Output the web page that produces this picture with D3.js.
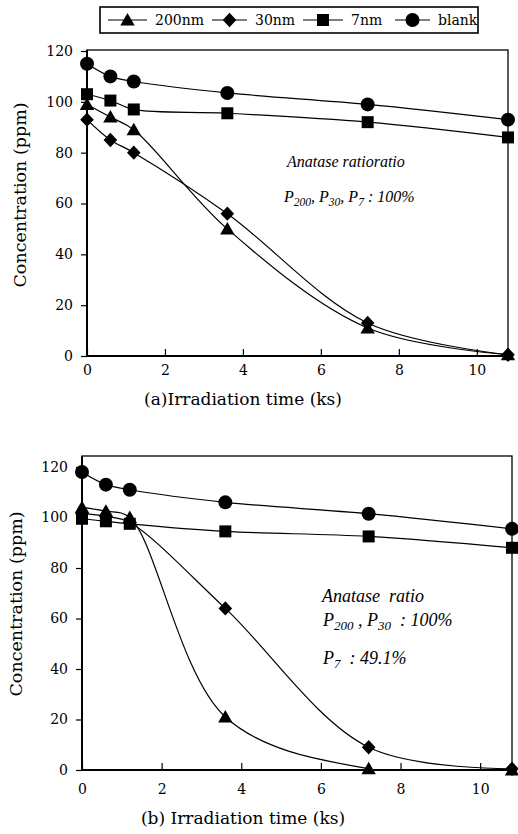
<!DOCTYPE html>
<html>
<head>
<meta charset="utf-8">
<script src="https://cdn.jsdelivr.net/npm/d3@7"></script>
<style>
  body { margin: 0; background: #fff; }
  text { fill: #000; }
</style>
</head>
<body>
<div id="chart"></div>
<script>
// irradiation times (ks)
const time = [0, 0.6, 1.2, 3.6, 7.2, 10.8];
const seriesNames = ["200nm", "30nm", "7nm", "blank"];
const seriesMarkers = ["triangle", "diamond", "square", "circle"];
const xTicks = [0, 2, 4, 6, 8, 10];
const yTicks = [0, 20, 40, 60, 80, 100, 120];

// panel (a)
const a200 = [99, 94, 89, 50, 11, 0.5];
const a30 = [93, 85, 80, 56, 13, 0.5];
const a7 = [103, 100.5, 97, 95.5, 92, 86];
const aBlank = [115, 110, 108, 103.5, 99, 93];

// panel (b)
const b200 = [104, 102.5, 100, 21, 0.5, 0];
const b30 = [101.5, 100.5, 98, 64, 9, 0.5];
const b7 = [99.5, 98.5, 97.5, 94.5, 92.5, 88];
const bBlank = [118, 113, 111, 106, 101.5, 95.5];

const W = 518, H = 834;
const svg = d3.select("#chart").append("svg").attr("width", W).attr("height", H);
const serif = "'DejaVu Serif', serif";
const italic = "'Liberation Serif', serif";

function markerPath(type) {
  if (type === "triangle") return "M0,-7L7.2,5.5L-7.2,5.5Z";
  if (type === "diamond") return "M0,-7.2L6.8,0L0,7.2L-6.8,0Z";
  if (type === "square") return "M-6,-6h12v12h-12Z";
  return "M-7,0a7,7 0 1,0 14,0a7,7 0 1,0 -14,0Z";
}

// legend
const legend = svg.append("g");
legend.append("rect")
  .attr("x", 100).attr("y", 7).attr("width", 378).attr("height", 26)
  .attr("fill", "none").attr("stroke", "#000").attr("stroke-width", 1.6);
const legX = [108, 212, 303, 395];
const legW = [39, 35, 40, 35];
seriesNames.forEach((name, i) => {
  const g = legend.append("g");
  g.append("line")
    .attr("x1", legX[i]).attr("x2", legX[i] + legW[i])
    .attr("y1", 20).attr("y2", 20)
    .attr("stroke", "#000").attr("stroke-width", 1.2);
  g.append("path")
    .attr("d", markerPath(seriesMarkers[i]))
    .attr("transform", `translate(${legX[i] + legW[i] / 2},20)`)
    .attr("fill", "#000");
  g.append("text")
    .attr("x", legX[i] + legW[i] + 8).attr("y", 25)
    .attr("font-family", serif).attr("font-size", 14)
    .text(name);
});

function drawPanel(cfg) {
  const x = d3.scaleLinear().domain([0, 10.8]).range([cfg.left, cfg.right]);
  const y = d3.scaleLinear().domain([0, 120]).range([cfg.bottom, cfg.y120]);
  const g = svg.append("g");

  const clipId = "clip" + cfg.id;
  g.append("clipPath").attr("id", clipId)
    .append("rect")
    .attr("x", cfg.left).attr("y", cfg.top)
    .attr("width", cfg.right - cfg.left).attr("height", cfg.bottom - cfg.top);

  // x axis (ticks point inward)
  const ax = g.append("g")
    .attr("transform", `translate(0,${cfg.bottom})`)
    .call(d3.axisBottom(x).tickValues(xTicks).tickSizeInner(-7).tickSizeOuter(0)
      .tickPadding(cfg.xPad).tickFormat(d3.format("d")));
  ax.select(".domain").remove();
  ax.selectAll("text").attr("font-family", serif).attr("font-size", 14);
  ax.selectAll("line").attr("stroke-width", 1.2);

  // y axis (ticks point outward)
  const ay = g.append("g")
    .attr("transform", `translate(${cfg.left},0)`)
    .call(d3.axisLeft(y).tickValues(yTicks).tickSizeInner(6).tickSizeOuter(0)
      .tickPadding(8).tickFormat(d3.format("d")));
  ay.select(".domain").remove();
  ay.selectAll("text").attr("font-family", serif).attr("font-size", 14);
  ay.selectAll("line").attr("stroke-width", 1.2);

  // frame
  g.append("rect")
    .attr("x", cfg.left).attr("y", cfg.top)
    .attr("width", cfg.right - cfg.left).attr("height", cfg.bottom - cfg.top)
    .attr("fill", "none").attr("stroke", "#000").attr("stroke-width", 1.3);
  g.append("path")
    .attr("d", `M${cfg.left},${cfg.top}V${cfg.bottom}H${cfg.right}`)
    .attr("fill", "none").attr("stroke", "#000").attr("stroke-width", 2);

  const line = d3.line()
    .x((d, i) => x(time[i]))
    .y(d => y(d))
    .curve(d3.curveCatmullRom.alpha(0.5));

  const lines = g.append("g").attr("clip-path", `url(#${clipId})`);
  cfg.series.forEach(vals => {
    lines.append("path")
      .attr("d", line(vals))
      .attr("fill", "none").attr("stroke", "#000").attr("stroke-width", 1.2);
  });

  const marks = g.append("g");
  [3, 2, 1, 0].forEach(s => {
    marks.selectAll(null)
      .data(cfg.series[s])
      .join("path")
      .attr("d", markerPath(seriesMarkers[s]))
      .attr("transform", (d, i) => `translate(${x(time[i])},${y(d)})`)
      .attr("fill", "#000");
  });

  // axis titles
  g.append("text")
    .attr("transform", `translate(${cfg.yTitleX},${cfg.yTitleY}) rotate(-90)`)
    .attr("text-anchor", "middle")
    .attr("font-family", serif).attr("font-size", 17.5)
    .text("Concentration (ppm)");
  g.append("text")
    .attr("x", 243).attr("y", cfg.xTitleY)
    .attr("text-anchor", "middle")
    .attr("font-family", serif).attr("font-size", 17)
    .style("white-space", "pre")
    .text(cfg.xTitle);

  // annotation
  cfg.notes.forEach(n => {
    const t = g.append("text")
      .attr("x", n.x).attr("y", n.y)
      .attr("font-family", italic).attr("font-style", "italic")
      .attr("font-size", n.size)
      .style("white-space", "pre");
    n.parts.forEach(p => {
      const ts = t.append("tspan").text(p[0]);
      if (p[1]) ts.attr("font-size", n.size * 0.72).attr("dy", 4);
      else if (p[2]) ts.attr("dy", -4);
    });
  });
}

drawPanel({
  id: "a", left: 87, right: 508, top: 50, bottom: 356, y120: 51, xPad: 9,
  series: [a200, a30, a7, aBlank],
  yTitleX: 26, yTitleY: 195,
  xTitle: "(a)Irradiation time (ks)", xTitleY: 405,
  notes: [
    { x: 287, y: 167, size: 16, parts: [["Anatase ratioratio"]] },
    { x: 284, y: 202, size: 16, parts: [["P"], ["200", 1], [", P", 0, 1], ["30", 1], [", P", 0, 1], ["7", 1], [" : 100%", 0, 1]] }
  ]
});

drawPanel({
  id: "b", left: 82, right: 512, top: 456, bottom: 770, y120: 467, xPad: 14,
  series: [b200, b30, b7, bBlank],
  yTitleX: 22, yTitleY: 604,
  xTitle: "(b) Irradiation time (ks)", xTitleY: 824,
  notes: [
    { x: 322, y: 602, size: 18, parts: [["Anatase  ratio"]] },
    { x: 323, y: 626, size: 18, parts: [["P"], ["200", 1], [" , P", 0, 1], ["30", 1], ["  : 100%", 0, 1]] },
    { x: 323, y: 664, size: 18, parts: [["P"], ["7", 1], ["  : 49.1%", 0, 1]] }
  ]
});
</script>
</body>
</html>
